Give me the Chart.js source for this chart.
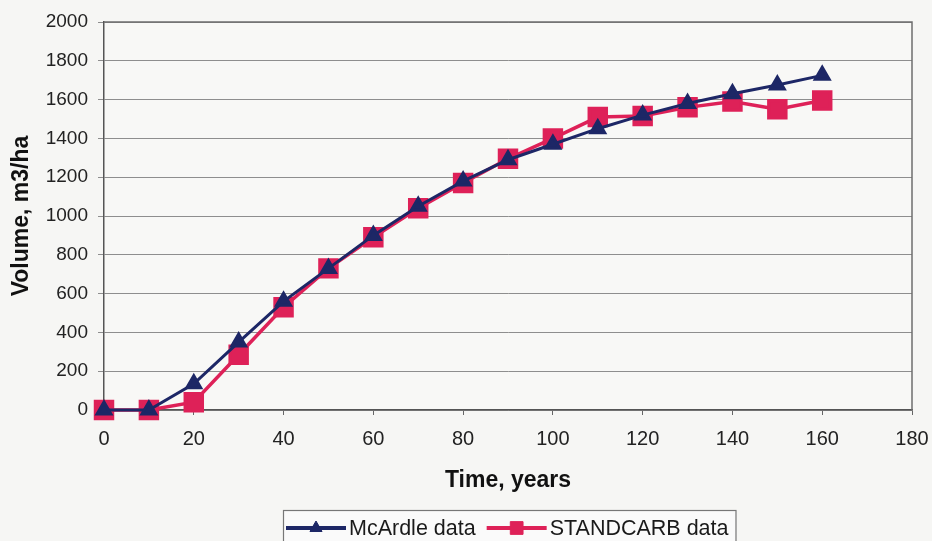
<!DOCTYPE html>
<html>
<head>
<meta charset="utf-8">
<script src="https://cdn.jsdelivr.net/npm/chart.js@4/dist/chart.umd.min.js"></script>
<style>
  html, body { margin: 0; padding: 0; background: #f6f6f4; }
  #wrap { width: 932px; height: 541px; position: relative; }
</style>
</head>
<body>
<div id="wrap"><canvas id="c" width="932" height="541"></canvas></div>
<script>
// ---- data ----
const years = [0, 10, 20, 30, 40, 50, 60, 70, 80, 90, 100, 110, 120, 130, 140, 150, 160];
const mcardle = [0, 0, 135, 350, 560, 730, 900, 1050, 1180, 1290, 1370, 1450, 1520, 1580, 1630, 1675, 1725];
const standcarb = [0, 0, 40, 285, 530, 730, 890, 1040, 1170, 1295, 1400, 1510, 1515, 1560, 1590, 1550, 1595];
const seriesNames = ['McArdle data', 'STANDCARB data'];
const xTickValues = [0, 20, 40, 60, 80, 100, 120, 140, 160, 180];
const yTickValues = [0, 200, 400, 600, 800, 1000, 1200, 1400, 1600, 1800, 2000];
const xTitle = 'Time, years';
const yTitle = 'Volume, m3/ha';

const NAVY = '#1d2766';
const RED = '#de2158';
const FONT = '"Liberation Sans", Arial, sans-serif';

const toPts = (xs, ys) => xs.map((x, i) => ({ x: x, y: ys[i] }));

const frame = {
  id: 'frame',
  beforeDraw(chart) {
    const { ctx, chartArea: a } = chart;
    ctx.save();
    ctx.fillStyle = '#f8f8f6';
    ctx.fillRect(a.left, a.top, a.right - a.left, a.bottom - a.top);
    ctx.restore();
  },
  beforeDatasetsDraw(chart) {
    const { ctx, chartArea: a } = chart;
    ctx.save();
    ctx.strokeStyle = '#6d6d6d';
    ctx.lineWidth = 1.5;
    ctx.beginPath();
    ctx.moveTo(a.left, a.top);
    ctx.lineTo(a.right, a.top);
    ctx.lineTo(a.right, a.bottom);
    ctx.stroke();
    ctx.restore();
  }
};

const boxLegend = {
  id: 'boxLegend',
  afterDraw(chart) {
    const ctx = chart.ctx;
    const ds = chart.data.datasets;
    ctx.save();
    const font = '21.5px ' + FONT;
    ctx.font = font;
    const lineLen = 60, gap = 3, itemGap = 11, padL = 3, padR = 7;
    const markR = [7, 9];
    let widths = ds.map(d => lineLen + gap + ctx.measureText(d.label).width);
    let total = padL + widths.reduce((a, b) => a + b, 0) + itemGap * (ds.length - 1) + padR;
    let x0 = 283;
    const top = 510, h = 40, midY = 528;
    ctx.fillStyle = '#fafafa';
    ctx.fillRect(x0, top, total, h);
    ctx.strokeStyle = '#777';
    ctx.lineWidth = 1.2;
    ctx.strokeRect(x0 + 0.5, top + 0.5, total, h);
    let x = x0 + padL;
    ds.forEach((d, i) => {
      ctx.strokeStyle = d.borderColor;
      ctx.lineWidth = 4;
      ctx.beginPath();
      ctx.moveTo(x, midY);
      ctx.lineTo(x + lineLen, midY);
      ctx.stroke();
      ctx.fillStyle = d.pointBackgroundColor;
      ctx.strokeStyle = d.pointBorderColor;
      ctx.lineWidth = 1;
      Chart.helpers.drawPoint(ctx, { pointStyle: d.pointStyle, radius: markR[i], borderWidth: 1 }, x + lineLen / 2, midY);
      ctx.fillStyle = '#1a1a1a';
      ctx.textBaseline = 'middle';
      ctx.textAlign = 'left';
      ctx.font = font;
      ctx.fillText(d.label, x + lineLen + gap, midY + 1);
      x += widths[i] + itemGap;
    });
    ctx.restore();
  }
};

new Chart(document.getElementById('c'), {
  type: 'line',
  data: {
    datasets: [
      {
        label: seriesNames[0],
        data: toPts(years, mcardle),
        borderColor: NAVY,
        backgroundColor: NAVY,
        pointBackgroundColor: NAVY,
        pointBorderColor: NAVY,
        pointStyle: 'triangle',
        pointRadius: 8,
        borderWidth: 3,
        tension: 0,
        clip: false
      },
      {
        label: seriesNames[1],
        data: toPts(years, standcarb),
        borderColor: RED,
        backgroundColor: RED,
        pointBackgroundColor: RED,
        pointBorderColor: RED,
        pointStyle: 'rect',
        pointRadius: 12,
        borderWidth: 3.5,
        tension: 0,
        clip: false
      }
    ]
  },
  options: {
    responsive: false,
    animation: false,
    layout: { padding: { left: 0, right: 20, top: 22, bottom: 45 } },
    plugins: { legend: { display: false }, tooltip: { enabled: false } },
    scales: {
      x: {
        type: 'linear',
        min: 0, max: 180,
        afterBuildTicks: s => { s.ticks = xTickValues.map(v => ({ value: v })); },
        afterFit: s => { s.height = 86; s.paddingLeft = 0; s.paddingRight = 0; },
        border: { color: '#555', width: 1.5 },
        grid: { drawOnChartArea: false, color: '#666', tickLength: 5 },
        ticks: {
          color: '#222',
          padding: 12,
          maxRotation: 0,
          callback: v => String(v),
          font: { family: FONT, size: 20 }
        },
        title: {
          display: true,
          text: xTitle,
          color: '#111',
          padding: { top: 0, bottom: 2 },
          font: { family: FONT, size: 23, weight: 'bold' }
        }
      },
      y: {
        min: 0, max: 2000,
        afterBuildTicks: s => { s.ticks = yTickValues.map(v => ({ value: v })); },
        afterFit: s => { s.width = 104; s.paddingTop = 0; s.paddingBottom = 0; },
        border: { color: '#555', width: 1.5 },
        grid: { color: '#8e8e8e', lineWidth: 1, tickLength: 6 },
        ticks: {
          color: '#222',
          padding: 10,
          callback: v => String(v),
          font: { family: FONT, size: 19 }
        },
        title: {
          display: true,
          text: yTitle,
          color: '#111',
          padding: { top: 8, bottom: 0 },
          font: { family: FONT, size: 23, weight: 'bold' }
        }
      }
    }
  },
  plugins: [frame, boxLegend]
});
</script>
</body>
</html>
